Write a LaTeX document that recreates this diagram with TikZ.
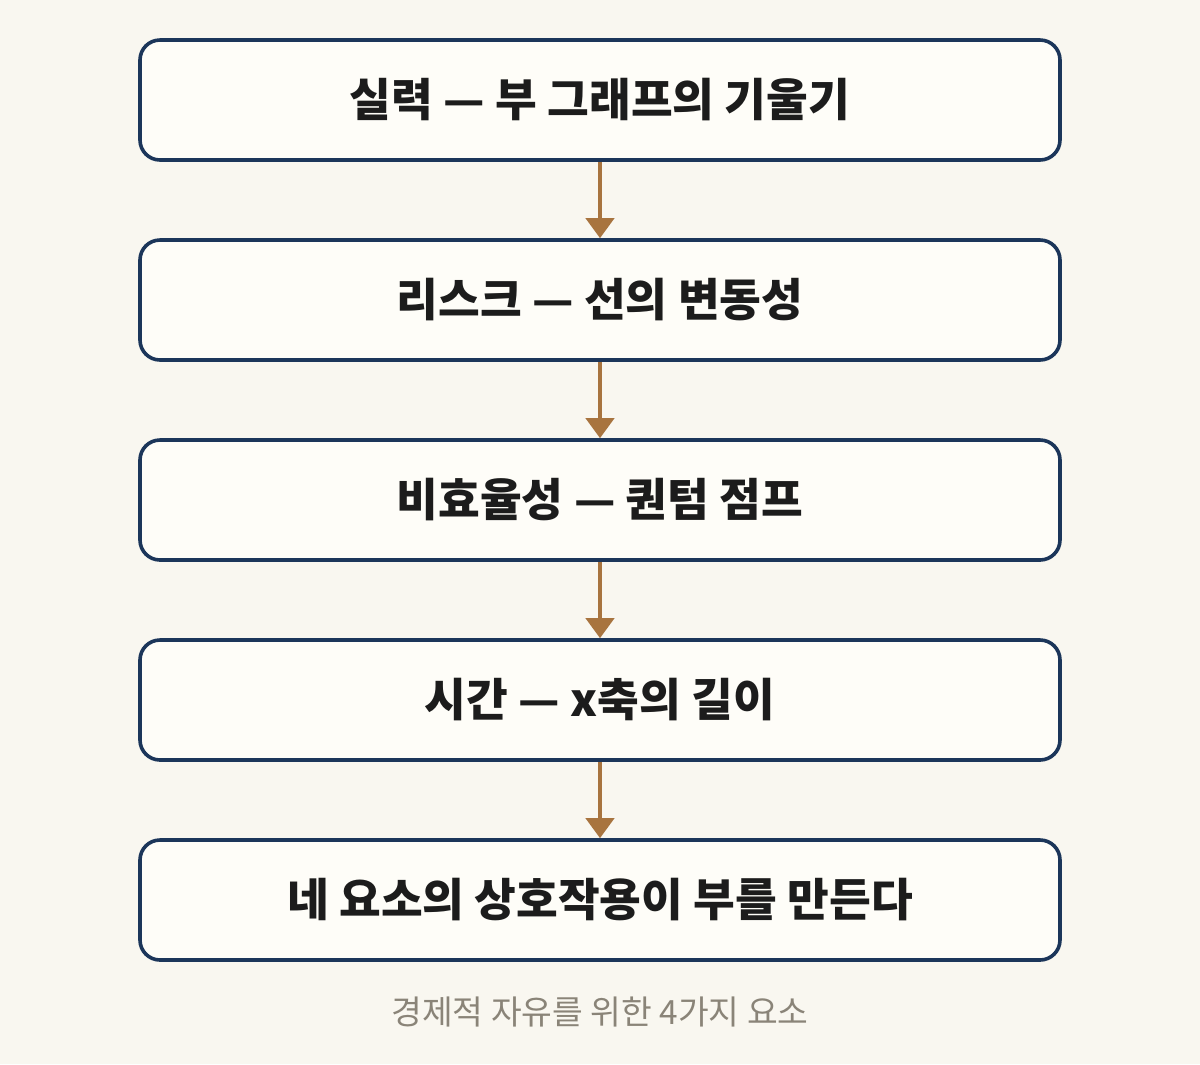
\documentclass[tikz,border=0pt]{standalone}
\usepackage{fontspec}
\setmainfont{Noto Sans CJK KR}
\usepackage{tikz}
\usetikzlibrary{positioning, arrows.meta}

\definecolor{paper}{HTML}{F9F7F0}
\definecolor{boxfill}{HTML}{FEFDF8}
\definecolor{navy}{HTML}{1C365A}
\definecolor{bronze}{HTML}{A8743F}
\definecolor{ink}{HTML}{1C1C1C}
\definecolor{note}{HTML}{8A8478}

\tikzset{
  factor/.style={draw=navy, line width=0.036cm, fill=boxfill, rounded corners=0.2cm,
    minimum width=9.2cm, minimum height=1.2cm, inner sep=0pt,
    text=ink, font=\fontsize{12.9}{15}\selectfont\bfseries},
  flow/.style={draw=bronze, line width=0.04cm,
    -{Triangle[width=0.28cm, length=0.2cm]}}
}

\begin{document}
\begin{tikzpicture}
    % background and margins
    \fill[paper] (0,0) rectangle (12,-10.64);
    \useasboundingbox (0,0) rectangle (12,-10.64);

    % draw the boxes for each factor
    \node[factor] (skill) at (6,-1) {실력 — 부 그래프의 기울기};
    \node[factor] (risk) at (6,-3) {리스크 — 선의 변동성};
    \node[factor] (waste) at (6,-5) {비효율성 — 퀀텀 점프};
    \node[factor] (time) at (6,-7) {시간 — x축의 길이};
    \node[factor] (wealth) at (6,-9) {네 요소의 상호작용이 부를 만든다};

    % draw the arrows between the boxes
    \draw[flow] (skill) -- (risk);
    \draw[flow] (risk) -- (waste);
    \draw[flow] (waste) -- (time);
    \draw[flow] (time) -- (wealth);

    % draw the caption
    \node[text=note, font=\fontsize{9.5}{11}\selectfont] (caption) at (6,-10.12) {경제적 자유를 위한 4가지 요소};

\end{tikzpicture}
\end{document}
